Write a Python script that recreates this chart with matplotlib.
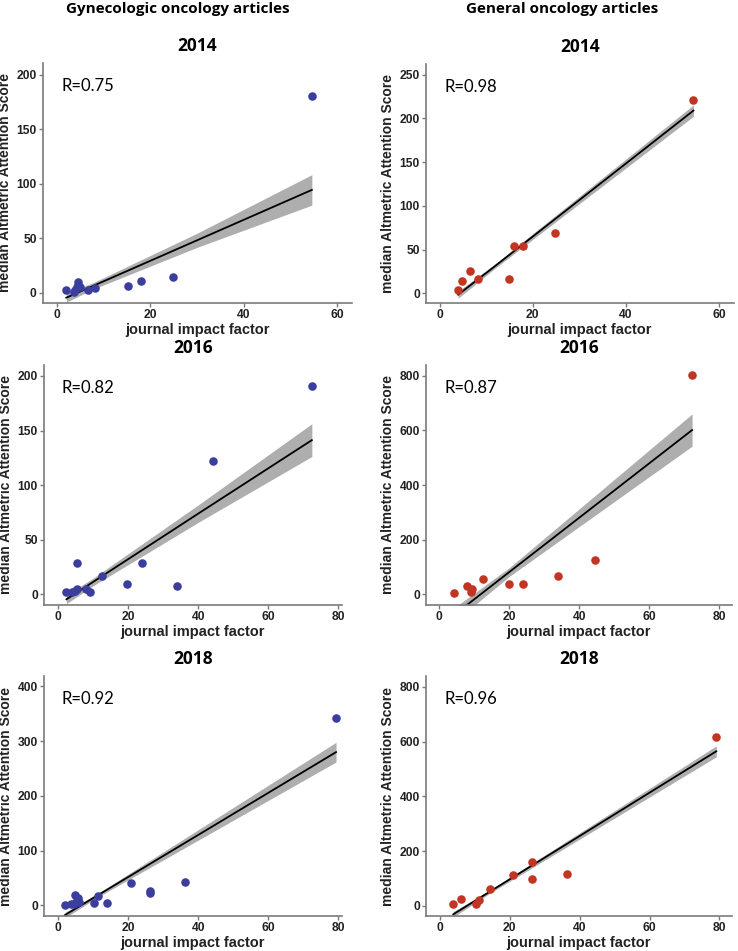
import numpy as np
import matplotlib
matplotlib.use("Agg")
import matplotlib.pyplot as plt

# ---- data ----
# 2014, gynecologic oncology
gyn14_if = [2.0, 3.7, 3.9, 4.2, 4.4, 4.6, 4.9, 6.7, 8.2, 15.2, 17.9, 24.8, 54.6]
gyn14_aas = [2.5, 0.5, 2.5, 5.0, 9.5, 7.0, 5.0, 2.5, 4.6, 6.5, 10.7, 14.2, 181]
# 2014, general oncology
gen14_if = [3.9, 4.9, 6.5, 8.2, 15.0, 15.9, 17.9, 24.8, 54.5]
gen14_aas = [3.8, 14.4, 25.9, 16.7, 16.0, 53.8, 54.5, 68.7, 221.4]
# 2016, gynecologic oncology
gyn16_if = [2.4, 4.0, 4.8, 5.4, 8.1, 9.2, 5.4, 12.6, 19.6, 23.9, 33.8, 44.3, 72.4]
gyn16_aas = [1.8, 1.8, 3.3, 4.8, 5.0, 2.2, 28.4, 16.9, 9.2, 28.7, 7.4, 122, 191]
# 2016, general oncology
gen16_if = [4.1, 7.9, 9.0, 9.3, 12.6, 19.9, 24.0, 33.9, 44.4, 72.2]
gen16_aas = [3.7, 31.7, 9.8, 18.3, 56, 39, 39, 68.3, 125.6, 802]
# 2018, gynecologic oncology
gyn18_if = [2.1, 3.8, 4.5, 5.1, 4.8, 5.7, 6.0, 10.2, 11.4, 14.1, 20.7, 26.3, 26.3, 36.3, 79.3]
gyn18_aas = [0.5, 1.8, 3.0, 5.5, 18.8, 12.8, 6.6, 3.7, 17.5, 4.8, 41.3, 27.0, 22.0, 42.0, 342.7]
# 2018, general oncology
gen18_if = [3.8, 6.1, 10.3, 11.2, 14.2, 20.9, 26.3, 26.3, 36.3, 79.1]
gen18_aas = [6.1, 24.4, 8.5, 23.2, 63.5, 114.8, 158.8, 100.2, 116, 616.8]

# fitted lines (points along the line) and band half-widths at those points
gyn14_fit_x = [2.0, 8.0, 30.0, 54.6]
gyn14_fit_y = [-4.6, 6.7, 48.1, 94.4]
gyn14_band = [4, 3, 6.5, 14]
gen14_fit_x = [4.0, 12.0, 54.5]
gen14_fit_y = [-1.5, 31.5, 208.8]
gen14_band = [4, 2.5, 6.5]
gyn16_fit_x = [2.4, 10.0, 40.0, 72.4]
gyn16_fit_y = [-4.6, 11.3, 73.9, 141.2]
gyn16_band = [4, 3.5, 8, 15]
gen16_fit_x = [4.1, 20.0, 72.2]
gen16_fit_y = [-76.6, 81.7, 601]
gen16_band = [26, 16, 59]
gyn18_fit_x = [2.0, 12.0, 79.3]
gyn18_fit_y = [-17.7, 20.9, 279.9]
gyn18_band = [5, 3.5, 18]
gen18_fit_x = [3.8, 15.0, 79.1]
gen18_fit_y = [-30.5, 58.0, 564.3]
gen18_band = [10, 6, 20]

r_labels = ["R=0.75", "R=0.98", "R=0.82", "R=0.87", "R=0.92", "R=0.96"]
years = ["2014", "2014", "2016", "2016", "2018", "2018"]

BLUE = "#3b3e9c"
RED = "#c23522"
TITLE_FONT = ["Open Sans", "DejaVu Sans"]
W, H = 738, 951

fig = plt.figure(figsize=(W / 100, H / 100), dpi=100)


def px_axes(l, t, r, b):
    return fig.add_axes([l / W, 1 - b / H, (r - l) / W, (b - t) / H])


panels = [
    # rect, x, y, fit x, fit y, band, color, xlim, ylim, xticks, yticks
    ((43, 63, 352, 303), gyn14_if, gyn14_aas, gyn14_fit_x, gyn14_fit_y, gyn14_band, BLUE,
     (-3.0, 63.2), (-9.5, 211), [0, 20, 40, 60], [0, 50, 100, 150, 200]),
    ((426, 64, 734, 303), gen14_if, gen14_aas, gen14_fit_x, gen14_fit_y, gen14_band, RED,
     (-2.9, 63.2), (-11, 262), [0, 20, 40, 60], [0, 50, 100, 150, 200, 250]),
    ((44, 365, 342, 605), gyn16_if, gyn16_aas, gyn16_fit_x, gyn16_fit_y, gyn16_band, BLUE,
     (-4.0, 81), (-9.8, 210), [0, 20, 40, 60, 80], [0, 50, 100, 150, 200]),
    ((426, 365, 732, 605), gen16_if, gen16_aas, gen16_fit_x, gen16_fit_y, gen16_band, RED,
     (-3.8, 83.6), (-39, 839), [0, 20, 40, 60, 80], [0, 200, 400, 600, 800]),
    ((44, 676, 342, 916), gyn18_if, gyn18_aas, gyn18_fit_x, gyn18_fit_y, gyn18_band, BLUE,
     (-4.0, 81), (-19.5, 419), [0, 20, 40, 60, 80], [0, 100, 200, 300, 400]),
    ((426, 676, 732, 916), gen18_if, gen18_aas, gen18_fit_x, gen18_fit_y, gen18_band, RED,
     (-4.0, 83.6), (-36.6, 839), [0, 20, 40, 60, 80], [0, 200, 400, 600, 800]),
]

for i, (rect, xs, ys, fx, fy, band, col, xlim, ylim, xt, yt) in enumerate(panels):
    ax = px_axes(*rect)
    fx = np.array(fx)
    fy = np.array(fy)
    hw = np.array(band)
    ax.fill_between(fx, fy - hw, fy + hw, color="#9a9a9a", alpha=0.8, lw=0, zorder=1)
    ax.plot(fx, fy, color="black", lw=1.3, zorder=2)
    ax.scatter(xs, ys, s=38, color=col, zorder=3, linewidths=0)
    ax.set_xlim(*xlim)
    ax.set_ylim(*ylim)
    ax.set_xticks(xt)
    ax.set_yticks(yt)
    for s in ["top", "right"]:
        ax.spines[s].set_visible(False)
    for s in ["left", "bottom"]:
        ax.spines[s].set_color("#7a7a7a")
        ax.spines[s].set_linewidth(1.2)
    ax.tick_params(length=3, width=1, color="#7a7a7a", pad=1.5,
                   labelsize=8.7, labelcolor="#222222")
    for lab in ax.get_xticklabels() + ax.get_yticklabels():
        lab.set_fontweight("bold")
        lab.set_family("Liberation Sans")
    ax.set_ylabel("median Altmetric Attention Score", fontsize=10,
                  fontweight="bold", family="Liberation Sans", color="#222222", labelpad=3)
    ax.set_xlabel("journal impact factor", fontsize=10.5, fontweight="bold",
                  family="Liberation Sans", color="#222222", labelpad=1.5)
    ax.text(0.06, 0.903, r_labels[i], transform=ax.transAxes, fontsize=12,
            family="Lato", va="center", ha="left", color="black")
    cx = (rect[0] + rect[2]) / 2 / W
    fig.text(cx, 1 - (rect[1] - 12) / H, years[i], ha="center", va="baseline",
             fontsize=12.5, fontweight="bold", family=TITLE_FONT)

fig.text(178 / W, 1 - 13 / H, "Gynecologic oncology articles", ha="center",
         va="baseline", fontsize=11, fontweight="bold", family=TITLE_FONT)
fig.text(562 / W, 1 - 13 / H, "General oncology articles", ha="center",
         va="baseline", fontsize=11, fontweight="bold", family=TITLE_FONT)

fig.savefig("out.png", dpi=100)
